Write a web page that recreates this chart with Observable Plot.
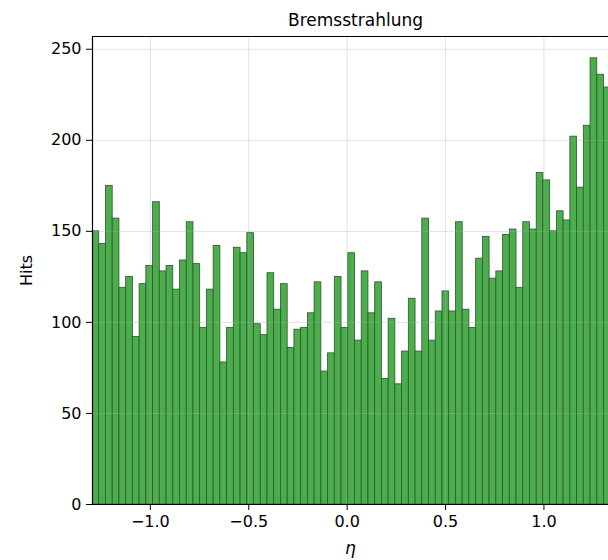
<!DOCTYPE html>
<html><head><meta charset="utf-8">
<script src="https://cdn.jsdelivr.net/npm/d3@7"></script>
<script src="https://cdn.jsdelivr.net/npm/@observablehq/plot@0.6"></script>
<style>body{margin:0;background:#fff;overflow:hidden}</style>
</head><body><div id="chart"></div>
<script>
// Histogram data (visible bins)
const binStart = -1.294;
const binWidth = 0.0342;
const counts = [150,143,175,157,119,125,92,121,131,166,128,131,118,134,155,132,97,118,142,78,
  97,141,138,149,99,93,127,107,121,86,96,97,105,122,73,83,125,97,138,90,
  128,105,122,69,102,66,84,113,84,157,90,106,117,106,155,107,97,135,147,124,
  128,148,151,119,155,151,182,178,150,161,156,202,174,208,245,236,229];
const xTicks = [-1.0, -0.5, 0.0, 0.5, 1.0];
const yTicks = [0, 50, 100, 150, 200, 250];
const titleText = "Bremsstrahlung";
const xLabel = "η";
const yLabel = "Hits";

const bins = counts.map((c, i) => ({x1: binStart + i * binWidth, x2: binStart + (i + 1) * binWidth, count: c}));
const xDomain = [binStart, 1.328];
const yDomain = [0, 257];
const fmt = d => (d < 0 ? "\u2212" : "") + Math.abs(d).toFixed(1);

const chart = Plot.plot({
  width: 608, height: 560,
  marginTop: 36, marginLeft: 92, marginRight: 0, marginBottom: 56,
  style: {fontFamily: "DejaVu Sans", fontSize: "16px", background: "#fff", color: "#000"},
  x: {domain: xDomain, ticks: xTicks, tickFormat: fmt, tickSize: 6, tickPadding: 5,
      label: xLabel, labelAnchor: "center", labelOffset: 49, labelArrow: false},
  y: {domain: yDomain, ticks: yTicks, tickSize: 6, tickPadding: 5,
      label: yLabel, labelAnchor: "center", labelOffset: 72, labelArrow: false},
  marks: [
    Plot.rectY(bins, {x1: "x1", x2: "x2", y: "count", fill: "rgb(76,172,78)", stroke: "rgb(38,92,38)", strokeWidth: 0.8, inset: 0, clip: true}),
    Plot.ruleX(xTicks, {stroke: "#b0b0b0", strokeOpacity: 0.35}),
    Plot.ruleY(yTicks, {stroke: "#b0b0b0", strokeOpacity: 0.35}),
    Plot.ruleX([binStart], {stroke: "#000", strokeWidth: 1.2}),
    Plot.ruleY([yDomain[0], yDomain[1]], {stroke: "#000", strokeWidth: 1.2}),
    Plot.text([titleText], {frameAnchor: "top", dy: -11, lineAnchor: "bottom", fontSize: 17, dx: 5})
  ]
});
document.getElementById("chart").appendChild(chart);
// strip any automatic arrows from axis labels; italicize eta
d3.select(chart).selectAll("text, tspan").each(function() {
  if (this.childElementCount === 0) {
    const t = this.textContent;
    const s = t.replace(/\s*[→←↑↓]\s*/g, "");
    if (s !== t) this.textContent = s;
  }
});
d3.select(chart).selectAll("text").filter(function(){ return this.textContent === xLabel; }).style("font-style", "italic").style("font-size", "17px");
d3.select(chart).selectAll("text").filter(function(){ return this.textContent === yLabel; }).style("font-size", "16px");
</script>
</body></html>
